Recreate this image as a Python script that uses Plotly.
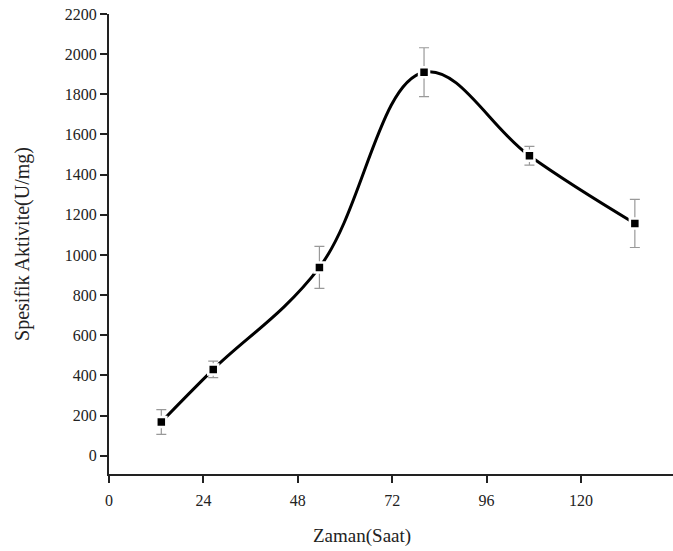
import plotly.graph_objects as go

# Sampling times as placed on the time axis (hours)
zaman = [13.3, 26.5, 53.5, 80.1, 106.9, 133.7]
# Specific activity (U/mg) and its standard deviation
aktivite = [168, 430, 938, 1910, 1494, 1157]
hata = [62, 41, 105, 122, 47, 120]

x_ticks = [0, 24, 48, 72, 96, 120]
y_ticks = list(range(0, 2201, 200))

font_family = "Liberation Serif"

fig = go.Figure()

# Smooth trend curve through the measurements
fig.add_trace(go.Scatter(
    x=zaman, y=aktivite, mode="lines",
    line=dict(color="black", width=3, shape="spline", smoothing=1.1),
    hoverinfo="skip", showlegend=False,
))

# Measured points with error bars
fig.add_trace(go.Scatter(
    x=zaman, y=aktivite, mode="markers",
    marker=dict(symbol="square", size=10, color="black",
                line=dict(color="white", width=2.5)),
    error_y=dict(type="data", array=hata, visible=True,
                 color="#999999", thickness=1.2, width=5),
    showlegend=False,
))

fig.update_layout(
    width=673, height=551,
    margin=dict(l=109, r=0, t=14, b=77),
    paper_bgcolor="white", plot_bgcolor="white",
    font=dict(family=font_family, size=16, color="#222"),
    xaxis=dict(
        range=[0, 143.4], tickvals=x_ticks, ticktext=[str(v) for v in x_ticks],
        showgrid=False, zeroline=False, showline=True, linecolor="#222", linewidth=2,
        ticks="outside", ticklen=7, tickwidth=1.5, tickcolor="#222",
        ticklabelstandoff=4,
        tickfont=dict(family=font_family, size=16, color="#222"),
    ),
    yaxis=dict(
        range=[-91, 2200], tickvals=y_ticks,
        showgrid=False, zeroline=False, showline=True, linecolor="#222", linewidth=2,
        ticks="outside", ticklen=7, tickwidth=1.5, tickcolor="#222",
        tickfont=dict(family=font_family, size=16, color="#222"),
        title=dict(text="Spesifik Aktivite(U/mg)", standoff=30,
                   font=dict(family=font_family, size=20, color="#222")),
    ),
    annotations=[dict(
        text="Zaman(Saat)", xref="paper", yref="paper",
        x=0.449, y=-0.135, xanchor="center", yanchor="middle",
        showarrow=False, font=dict(family=font_family, size=19, color="#222"),
    )],
)

fig.write_html("out.html")
